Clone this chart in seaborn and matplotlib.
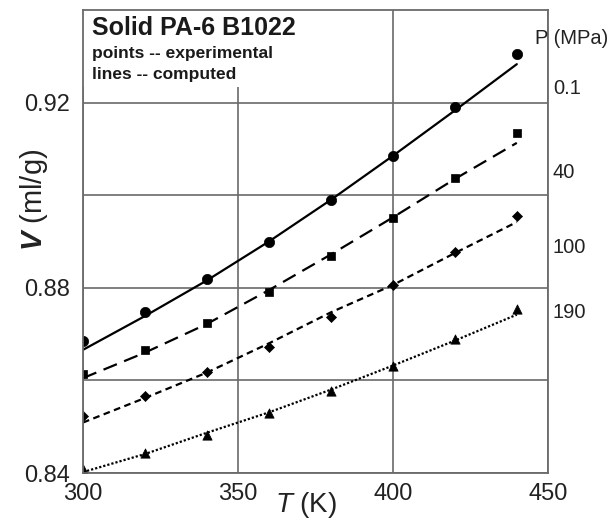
import matplotlib
matplotlib.use("Agg")
import matplotlib.pyplot as plt
import seaborn as sns
import pandas as pd
from matplotlib.patches import Rectangle

# ---------------- data ----------------
T_exp = [300, 320, 340, 360, 380, 400, 420, 440]
V_exp_p01 = [0.8686, 0.8748, 0.8819, 0.8898, 0.8990, 0.9084, 0.9191, 0.9306]
V_exp_p40 = [0.8613, 0.8666, 0.8725, 0.8792, 0.8868, 0.8951, 0.9037, 0.9134]
V_exp_p100 = [0.8524, 0.8567, 0.8618, 0.8673, 0.8737, 0.8805, 0.8877, 0.8956]
V_exp_p190 = [0.8409, 0.8443, 0.8482, 0.8529, 0.8577, 0.8632, 0.8689, 0.8755]

T_calc = [300, 320, 340, 360, 380, 400, 420, 440]
V_calc_p01 = [0.8666, 0.8739, 0.8816, 0.8900, 0.8990, 0.9085, 0.9183, 0.9283]
V_calc_p40 = [0.8605, 0.8660, 0.8722, 0.8795, 0.8872, 0.8952, 0.9035, 0.9113]
V_calc_p100 = [0.8509, 0.8562, 0.8617, 0.8680, 0.8747, 0.8806, 0.8875, 0.8942]
V_calc_p190 = [0.8402, 0.8441, 0.8487, 0.8531, 0.8580, 0.8632, 0.8686, 0.8742]

pressures = ["0.1", "40", "100", "190"]
x_ticks = [300, 350, 400, 450]
y_major = [0.84, 0.88, 0.92]
y_minor = [0.86, 0.90]

title = "Solid PA-6 B1022"
note1 = "points -- experimental"
note2 = "lines -- computed"

# ---------------- style ----------------
sns.set_style("white")
plt.rcParams["font.family"] = ["Liberation Sans", "DejaVu Sans"]
plt.rcParams["mathtext.fontset"] = "custom"
plt.rcParams["mathtext.rm"] = "Liberation Sans"
plt.rcParams["mathtext.it"] = "Liberation Sans:italic"
plt.rcParams["mathtext.bf"] = "Liberation Sans:bold"
plt.rcParams["mathtext.bfit"] = "Liberation Sans:italic:bold"

fig = plt.figure(figsize=(6.1, 5.24), dpi=100)
ax = fig.add_axes([0.136, 0.0973, 0.762, 0.8836])

grid_c = "#6a6a6a"

exp_sets = [V_exp_p01, V_exp_p40, V_exp_p100, V_exp_p190]
calc_sets = [V_calc_p01, V_calc_p40, V_calc_p100, V_calc_p190]
markers = ["o", "s", "D", "^"]
msizes = [55, 30, 26, 45]
lstyles = ["-", (0, (6.5, 3.5)), (0, (3.0, 2.0)), (0, (1.0, 0.9))]

for vc, ls in zip(calc_sets, lstyles):
    sns.lineplot(x=T_calc, y=vc, ax=ax, color="black", linewidth=1.6,
                 linestyle=ls, zorder=3)
for ve, mk, ms in zip(exp_sets, markers, msizes):
    sns.scatterplot(x=T_exp, y=ve, ax=ax, color="black", marker=mk, s=ms,
                    edgecolor="black", linewidth=0.5, zorder=4)

ax.set_xlim(300, 450)
ax.set_ylim(0.84, 0.94)
ax.set_xticks(x_ticks)
ax.set_xticklabels([str(t) for t in x_ticks])
ax.set_yticks(y_major)
ax.set_yticklabels([f"{v:.2f}" for v in y_major])
ax.set_yticks(y_minor, minor=True)
ax.tick_params(axis="both", which="both", length=0, labelsize=17,
               colors="#222222")
ax.tick_params(axis="x", pad=7)
ax.tick_params(axis="y", pad=9)
ax.grid(True, which="both", color=grid_c, linewidth=1.2)
ax.set_axisbelow(True)
for sp in ax.spines.values():
    sp.set_color(grid_c)
    sp.set_linewidth(1.3)
    sp.set_zorder(5)

# white box behind the caption (hides gridline)
ax.add_patch(Rectangle((0.0, 0.834), 0.49, 0.166, transform=ax.transAxes,
                       facecolor="white", edgecolor="none", zorder=1.5))
ax.text(0.019, 0.961, title, transform=ax.transAxes, fontsize=18,
        fontweight="bold", va="center", ha="left", color="#1a1a1a", zorder=6)
ax.text(0.019, 0.907, note1, transform=ax.transAxes, fontsize=12.5,
        fontweight="bold", va="center", ha="left", color="#1a1a1a", zorder=6)
ax.text(0.019, 0.860, note2, transform=ax.transAxes, fontsize=12.5,
        fontweight="bold", va="center", ha="left", color="#1a1a1a", zorder=6)

# pressure labels on the right
ax.text(0.972, 0.9395, "P (MPa)", transform=ax.transAxes, fontsize=14.5,
        va="center", ha="left", color="#222222", zorder=6, clip_on=False)
label_y = [0.8315, 0.648, 0.486, 0.3456]
for p, yy in zip(pressures, label_y):
    ax.text(1.011, yy, p, transform=ax.transAxes, fontsize=14.5,
            va="center", ha="left", color="#222222", clip_on=False)

ax.set_xlabel(r"$T$ (K)", fontsize=20, color="#222222")
ax.set_ylabel(r"$\mathbfit{V}$ (ml/g)", fontsize=21, color="#222222")
ax.xaxis.set_label_coords(0.48, -0.036)
ax.yaxis.set_label_coords(-0.07, 0.59)

fig.savefig("out.png", dpi=100, facecolor="white")
